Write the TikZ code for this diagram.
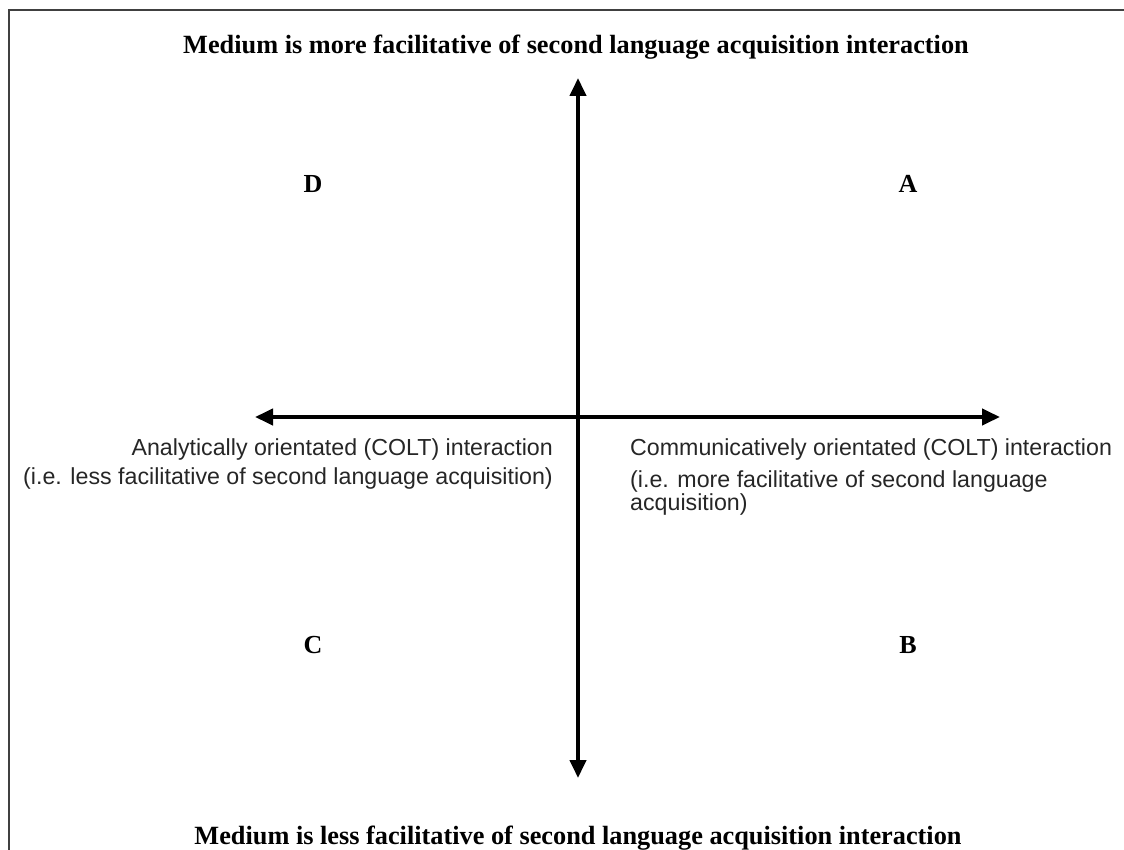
\documentclass[tikz,border=0pt]{standalone}
\usepackage{fontspec}
\setmainfont{Liberation Serif}
\newfontfamily\arialf{Liberation Sans}
\usetikzlibrary{arrows.meta}
\tikzset{
  axisline/.style={line width=4pt, {Triangle[length=18pt,width=16pt]}-{Triangle[length=18pt,width=16pt]}},
  framepen/.style={line width=2.5pt, draw=black!75},
  titletext/.style={inner sep=0pt, font=\fontsize{26.3}{30}\selectfont\bfseries},
  quadletter/.style={inner sep=0pt, font=\fontsize{26}{30}\selectfont\bfseries},
  bodytext/.style={inner sep=0pt, font=\arialf\fontsize{23.2}{27}\selectfont, text=black!85},
}
\begin{document}
\begin{tikzpicture}[x=1pt,y=-1pt]
\useasboundingbox (0,0) rectangle (1124,850);
\draw[framepen] (9,850) -- (9,10) -- (1124,10);
\coordinate (top) at (578,78);
\coordinate (bottom) at (578,778);
\coordinate (left) at (255,417);
\coordinate (right) at (1000,417);
\draw[axisline] (top) -- (bottom);
\draw[axisline] (left) -- (right);
\node[titletext, anchor=base] (ttop) at (576,54) {Medium is more facilitative of second language acquisition interaction};
\node[titletext, anchor=base] (tbot) at (578,844) {Medium is less facilitative of second language acquisition interaction};
\node[quadletter, anchor=base] (qD) at (313,193) {D};
\node[quadletter, anchor=base] (qA) at (908,193) {A};
\node[quadletter, anchor=base] (qC) at (313,653) {C};
\node[quadletter, anchor=base] (qB) at (908,653) {B};
\node[bodytext, anchor=base east] (l1) at (553,455) {Analytically orientated (COLT) interaction};
\node[bodytext, anchor=base east] (l2) at (553,484) {(i.e. less facilitative of second language acquisition)};
\node[bodytext, anchor=base west] (r1) at (630,455) {Communicatively orientated (COLT) interaction};
\node[bodytext, anchor=base west] (r2) at (630,487) {(i.e. more facilitative of second language};
\node[bodytext, anchor=base west] (r3) at (630,510) {acquisition)};
\end{tikzpicture}
\end{document}
